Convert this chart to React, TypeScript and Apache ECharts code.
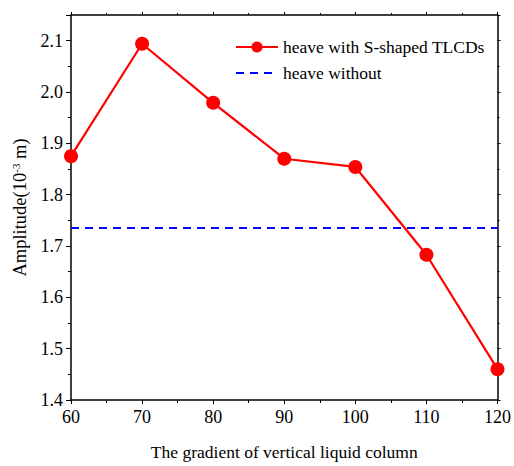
import React, { useEffect, useRef } from "react";
import * as echarts from "echarts";

const gradients = [60, 70, 80, 90, 100, 110, 120];
const heaveWith = [1.875, 2.094, 1.979, 1.870, 1.854, 1.683, 1.460];
const heaveWithoutValue = 1.735;
const heaveWithoutX = [60, 120];
const seriesNames = ["heave with S-shaped TLCDs", "heave without"];

const FONT = "'Liberation Serif', 'Times New Roman', serif";

export default function App() {
  const ref = useRef<HTMLDivElement>(null);
  useEffect(() => {
    if (!ref.current) return;
    const chart = echarts.init(ref.current, null, { renderer: "svg" });
    const axisLine = { show: true, lineStyle: { color: "#000", width: 1.5 } };
    chart.setOption({
      animation: false,
      backgroundColor: "#fff",
      textStyle: { fontFamily: FONT },
      grid: { left: 71, right: 15, top: 15, bottom: 62 },
      legend: {
        left: 230,
        top: 33,
        orient: "vertical",
        itemWidth: 42,
        itemHeight: 14,
        itemGap: 8,
        textStyle: { fontFamily: FONT, fontSize: 17.5, color: "#000" },
        data: [
          { name: seriesNames[0] },
          { name: seriesNames[1], itemStyle: { opacity: 0 } },
        ],
      },
      xAxis: [
        {
          type: "value",
          min: 60,
          max: 120,
          interval: 10,
          name: "The gradient of vertical liquid column",
          nameLocation: "middle",
          nameGap: 43,
          nameTextStyle: { fontFamily: FONT, fontSize: 17.5, color: "#000" },
          axisLine,
          axisTick: { show: true, length: 4, lineStyle: { color: "#000" } },
          minorTick: { show: true, splitNumber: 2, length: 3, lineStyle: { color: "#000" } },
          splitLine: { show: false },
          axisLabel: { fontFamily: FONT, fontSize: 18, color: "#000", margin: 8 },
        },
        {
          type: "value",
          position: "top",
          min: 60,
          max: 120,
          interval: 10,
          axisLine,
          axisTick: { show: true, length: 3, lineStyle: { color: "#000" } },
          minorTick: { show: true, splitNumber: 2, length: 2, lineStyle: { color: "#000" } },
          splitLine: { show: false },
          axisLabel: { show: false },
        },
      ],
      yAxis: [
        {
          type: "value",
          min: 1.4,
          max: 2.15,
          interval: 0.1,
          name: "Amplitude(10{sup|-3} m)",
          nameLocation: "middle",
          nameGap: 41,
          nameTextStyle: {
            fontFamily: FONT,
            fontSize: 18.5,
            color: "#000",
            rich: { sup: { fontFamily: FONT, fontSize: 11, color: "#000", verticalAlign: "top", padding: [0, 0, 8, 0] } },
          },
          axisLine,
          axisTick: { show: true, length: 5, lineStyle: { color: "#000" } },
          minorTick: { show: true, splitNumber: 2, length: 3, lineStyle: { color: "#000" } },
          splitLine: { show: false },
          axisLabel: {
            fontFamily: FONT,
            fontSize: 18,
            color: "#000",
            margin: 8,
            showMaxLabel: false,
            formatter: (v: number) => v.toFixed(1),
          },
        },
        {
          type: "value",
          position: "right",
          min: 1.4,
          max: 2.15,
          interval: 0.1,
          axisLine,
          axisTick: { show: true, length: 3, lineStyle: { color: "#000" } },
          minorTick: { show: true, splitNumber: 2, length: 2, lineStyle: { color: "#000" } },
          splitLine: { show: false },
          axisLabel: { show: false },
        },
      ],
      series: [
        {
          name: seriesNames[0],
          type: "line",
          data: gradients.map((g, i) => [g, heaveWith[i]]),
          symbol: "circle",
          symbolSize: 14,
          color: "#ff0000",
          lineStyle: { color: "#ff0000", width: 2.2 },
          itemStyle: { color: "#ff0000" },
          clip: true,
          z: 3,
        },
        {
          name: seriesNames[1],
          type: "line",
          data: heaveWithoutX.map((g) => [g, heaveWithoutValue]),
          symbol: "none",
          color: "#0000ff",
          lineStyle: { color: "#0000ff", width: 2, type: [8, 6] },
          z: 2,
        },
      ],
    });
    return () => chart.dispose();
  }, []);
  return (
    <div
      ref={ref}
      style={{ position: "absolute", left: 0, top: 0, width: 514, height: 466 }}
    />
  );
}
